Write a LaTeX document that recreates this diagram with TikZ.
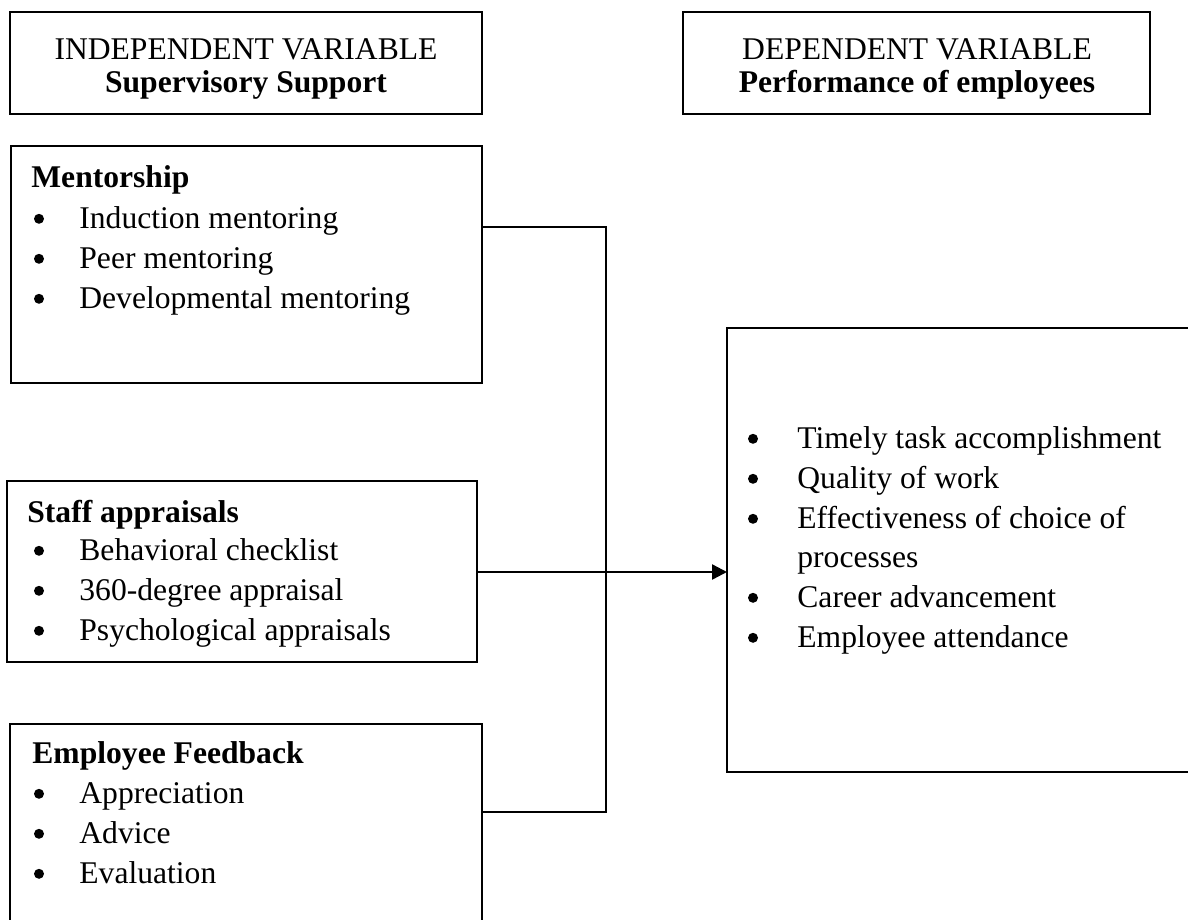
\documentclass[tikz,border=0pt]{standalone}
\usepackage{fontspec}
\setmainfont{Liberation Serif}
\usetikzlibrary{arrows.meta}
\begin{document}
\begin{tikzpicture}[x=0.5pt,y=-0.5pt,
  box/.style={draw=black, line width=0.65pt, rectangle, anchor=north west, inner sep=0pt, outer sep=0pt},
  txt/.style={anchor=base west, inner sep=0pt, font=\fontsize{15.8}{19}\selectfont},
  ttl/.style={anchor=base west, inner sep=0pt, font=\fontsize{15.8}{19}\selectfont\bfseries},
  hdr/.style={anchor=base, inner sep=0pt, font=\fontsize{15.8}{19}\selectfont},
  hdrb/.style={anchor=base, inner sep=0pt, font=\fontsize{15.8}{19}\selectfont\bfseries},
  bul/.style={circle, fill=black, inner sep=0pt, minimum size=5pt, yshift=4.6pt},
  link/.style={draw=black, line width=0.6pt},
  arr/.style={draw=black, line width=1.2pt, -{Triangle[length=7.5pt,width=7.5pt]}}
]
\useasboundingbox (0,0) rectangle (1188,920);
\clip (0,0) rectangle (1188,920);

% boxes
\node[box, minimum width=236pt, minimum height=51pt] (indep) at (10,12) {};
\node[box, minimum width=233.5pt, minimum height=51pt] (dep) at (683,12) {};
\node[box, minimum width=235.5pt, minimum height=118.5pt] (ment) at (11,146) {};
\node[box, minimum width=235pt, minimum height=90.5pt] (staff) at (7,481) {};
\node[box, minimum width=236pt, minimum height=110pt] (feed) at (10,724) {};
\node[box, minimum width=250pt, minimum height=222pt] (perf) at (727,328) {};

% headers
\node[hdr]  (indepA) at (246,60) {INDEPENDENT VARIABLE};
\node[hdrb] (indepB) at (246,93) {Supervisory Support};
\node[hdr]  (depA) at (917,60) {DEPENDENT VARIABLE};
\node[hdrb] (depB) at (917,93) {Performance of employees};

% mentorship
\node[ttl] (mT) at (31,187) {Mentorship};
\node[bul] (mb1) at (39,228) {};
\node[txt] (m1) at (79,228) {Induction mentoring};
\node[bul] (mb2) at (39,268) {};
\node[txt] (m2) at (79,268) {Peer mentoring};
\node[bul] (mb3) at (39,308) {};
\node[txt] (m3) at (79,308) {Developmental mentoring};

% staff appraisals
\node[ttl] (sT) at (27,522) {Staff appraisals};
\node[bul] (sb1) at (39,560) {};
\node[txt] (s1) at (79,560) {Behavioral checklist};
\node[bul] (sb2) at (39,600) {};
\node[txt] (s2) at (79,600) {360-degree appraisal};
\node[bul] (sb3) at (39,640) {};
\node[txt] (s3) at (79,640) {Psychological appraisals};

% employee feedback
\node[ttl] (fT) at (32,763) {Employee Feedback};
\node[bul] (fb1) at (39,803) {};
\node[txt] (f1) at (79,803) {Appreciation};
\node[bul] (fb2) at (39,843) {};
\node[txt] (f2) at (79,843) {Advice};
\node[bul] (fb3) at (39,883) {};
\node[txt] (f3) at (79,883) {Evaluation};

% performance
\node[bul] (pb1) at (753,448) {};
\node[txt] (p1) at (797,448) {Timely task accomplishment};
\node[bul] (pb2) at (753,488) {};
\node[txt] (p2) at (797,488) {Quality of work};
\node[bul] (pb3) at (753,528) {};
\node[txt] (p3) at (797,528) {Effectiveness of choice of};
\node[txt] (p3b) at (797,567) {processes};
\node[bul] (pb4) at (753,607) {};
\node[txt] (p4) at (797,607) {Career advancement};
\node[bul] (pb5) at (753,647) {};
\node[txt] (p5) at (797,647) {Employee attendance};

% connectors
\coordinate (j1) at (606,227);
\coordinate (j2) at (606,812);
\coordinate (a1) at (606,572);
\draw[link] (ment.east |- j1) -- (j1) -- (j2) -- (feed.east |- j2);
\draw[arr] (staff.east |- a1) -- (perf.west |- a1);
\end{tikzpicture}
\end{document}
